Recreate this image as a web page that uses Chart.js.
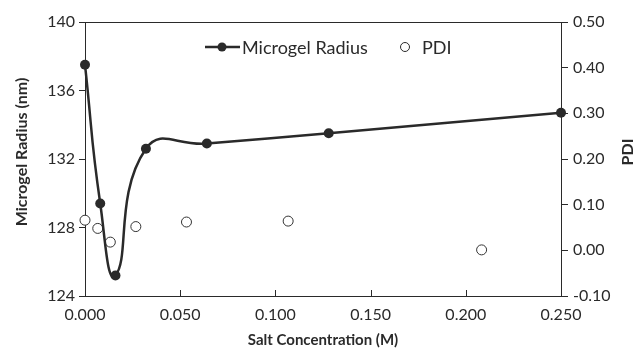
<!DOCTYPE html>
<html lang="en">
<head>
    <meta charset="UTF-8">
    <title>Microgel Radius and PDI vs Salt Concentration</title>
    <script src="https://cdn.jsdelivr.net/npm/chart.js"></script>
    <style>
        html, body {
            margin: 0;
            padding: 0;
            background: #fff;
        }
        #wrap {
            width: 639px;
            height: 353px;
        }
    </style>
</head>
<body>
    <div id="wrap"><canvas id="chart"></canvas></div>

    <script>
        // Data
        const radiusConc = [0, 0.008, 0.016, 0.032, 0.064, 0.128, 0.25];
        const radiusNm = [137.5, 129.4, 125.2, 132.6, 132.9, 133.5, 134.7];
        const pdiConc = [0, 0.0067, 0.0133, 0.0267, 0.0533, 0.1067, 0.2083];
        const pdiValues = [0.066, 0.048, 0.018, 0.052, 0.062, 0.064, 0.001];

        const FONT = 'Lato, "Open Sans", sans-serif';
        const INK = '#2a2a2a';

        function pairs(xs, ys) {
            return xs.map((x, i) => ({ x: x, y: ys[i] }));
        }

        // frame, inward x ticks, y titles, legend inside the plot
        const extras = {
            id: 'extras',
            afterDraw(chart) {
                const ctx = chart.ctx;
                const a = chart.chartArea;
                const xs = chart.scales.x;
                ctx.save();
                ctx.strokeStyle = INK;
                ctx.lineWidth = 1;
                ctx.beginPath();
                ctx.moveTo(a.left, a.top + 0.5);
                ctx.lineTo(a.right, a.top + 0.5);
                xs.ticks.forEach(t => {
                    const px = Math.round(xs.getPixelForValue(t.value)) + 0.5;
                    ctx.moveTo(px, a.bottom);
                    ctx.lineTo(px, a.bottom - 6);
                });
                ctx.stroke();

                ctx.fillStyle = INK;
                ctx.font = 'bold 16px ' + FONT;
                ctx.textAlign = 'center';
                ctx.textBaseline = 'middle';
                ctx.save();
                ctx.translate(22, 152);
                ctx.rotate(-Math.PI / 2);
                ctx.fillText('Microgel Radius (nm)', 0, 0);
                ctx.restore();
                ctx.save();
                ctx.translate(628, 152);
                ctx.rotate(-Math.PI / 2);
                ctx.fillText('PDI', 0, 0);
                ctx.restore();

                // legend
                const ly = 47;
                ctx.lineWidth = 2.5;
                ctx.beginPath();
                ctx.moveTo(205, ly);
                ctx.lineTo(240, ly);
                ctx.stroke();
                ctx.beginPath();
                ctx.arc(222, ly, 4.5, 0, Math.PI * 2);
                ctx.fill();
                ctx.font = '18px ' + FONT;
                ctx.textAlign = 'left';
                ctx.fillText('Microgel Radius', 242, ly + 1);
                ctx.lineWidth = 1;
                ctx.beginPath();
                ctx.arc(405, ly, 4.5, 0, Math.PI * 2);
                ctx.stroke();
                ctx.fillText('PDI', 422, ly + 1);
                ctx.restore();
            }
        };

        const ctx = document.getElementById('chart').getContext('2d');
        new Chart(ctx, {
            type: 'scatter',
            data: {
                datasets: [
                    {
                        label: 'Microgel Radius',
                        data: pairs(radiusConc, radiusNm),
                        yAxisID: 'y',
                        showLine: true,
                        tension: 0.5,
                        borderColor: INK,
                        borderWidth: 2.5,
                        backgroundColor: INK,
                        pointRadius: 5,
                        pointBorderWidth: 0,
                        pointBackgroundColor: INK,
                        clip: false
                    },
                    {
                        label: 'PDI',
                        data: pairs(pdiConc, pdiValues),
                        yAxisID: 'y1',
                        showLine: false,
                        pointRadius: 5,
                        pointBorderWidth: 1,
                        pointBorderColor: '#333',
                        pointBackgroundColor: '#fff',
                        clip: false
                    }
                ]
            },
            options: {
                responsive: true,
                maintainAspectRatio: false,
                animation: false,
                layout: { padding: { top: 22, left: 0, right: 0, bottom: 0 } },
                plugins: {
                    legend: { display: false },
                    tooltip: { enabled: false }
                },
                scales: {
                    x: {
                        type: 'linear',
                        position: 'bottom',
                        min: 0,
                        max: 0.25,
                        afterFit: s => { s.height = 57; },
                        ticks: {
                            stepSize: 0.05,
                            callback: v => v.toFixed(3),
                            font: { family: FONT, size: 16 },
                            color: INK,
                            padding: 9,
                            maxRotation: 0
                        },
                        grid: { drawOnChartArea: false, drawTicks: false },
                        border: { color: INK, width: 1 },
                        title: {
                            display: true,
                            text: 'Salt Concentration (M)',
                            font: { family: FONT, size: 15, weight: 'bold' },
                            color: INK,
                            padding: { top: 0, bottom: 4 }
                        }
                    },
                    y: {
                        position: 'left',
                        min: 124,
                        max: 140,
                        afterFit: s => { s.width = 85; },
                        ticks: {
                            stepSize: 4,
                            font: { family: FONT, size: 16 },
                            color: INK,
                            padding: 4
                        },
                        grid: { drawOnChartArea: false, drawTicks: true, tickLength: 6, color: INK },
                        border: { color: INK, width: 1 }
                    },
                    y1: {
                        position: 'right',
                        min: -0.1,
                        max: 0.5,
                        afterFit: s => { s.width = 78; },
                        ticks: {
                            stepSize: 0.1,
                            callback: v => (Math.abs(v) < 1e-9 ? 0 : v).toFixed(2),
                            font: { family: FONT, size: 16 },
                            color: INK,
                            padding: 5
                        },
                        grid: { drawOnChartArea: false, drawTicks: true, tickLength: 7, color: INK },
                        border: { color: INK, width: 1 }
                    }
                }
            },
            plugins: [extras]
        });
    </script>
</body>
</html>
